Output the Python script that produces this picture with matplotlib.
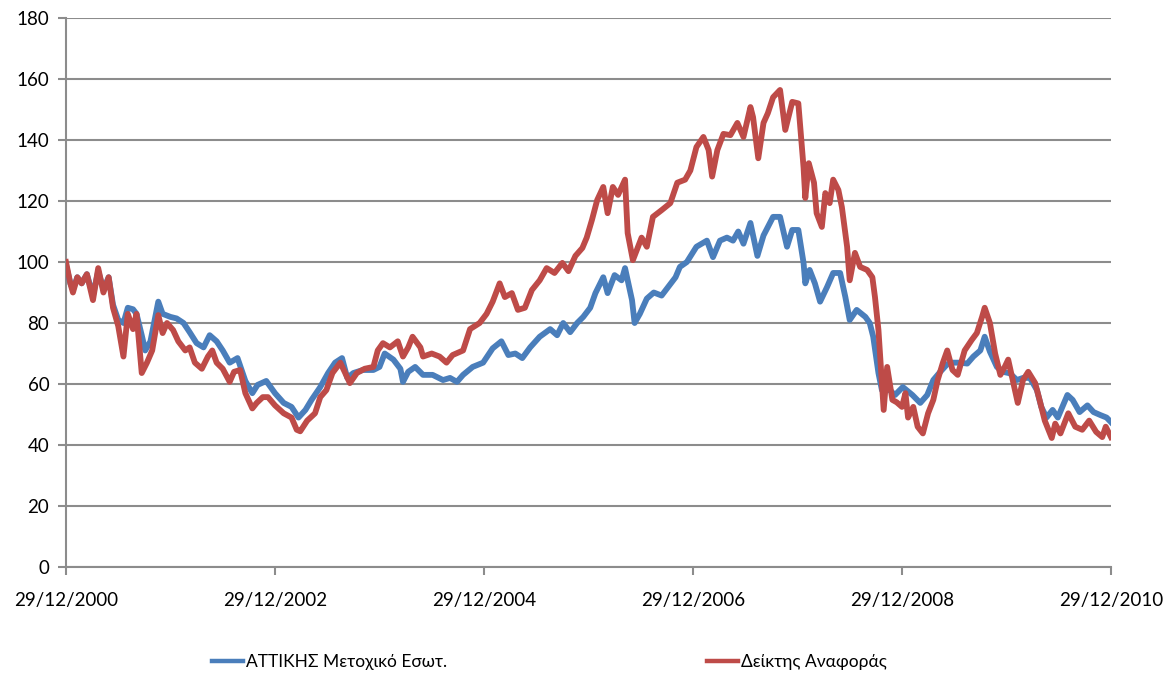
import matplotlib
matplotlib.use("Agg")
import matplotlib.pyplot as plt

# months since 29/12/2000 and index values
attica_m = [0.0, 0.5, 0.8, 1.3, 1.8, 2.4, 3.1, 3.7, 4.3, 4.9, 5.4, 6.0, 6.6, 7.1, 7.7, 8.1, 8.7, 9.1, 9.7,
            10.6, 11.1, 12.0, 12.7, 13.5, 14.2, 15.0, 15.8, 16.5, 17.3, 18.0, 18.8, 19.7, 20.6, 21.4, 22.0,
            23.0, 24.0, 25.0, 25.9, 26.7, 27.5, 28.2, 29.2, 30.1, 30.9, 31.7, 32.3, 33.0, 34.1, 35.3, 36.0,
            36.6, 37.6, 38.4, 38.7, 39.3, 40.1, 41.0, 42.1, 43.3, 44.1, 44.9, 45.6, 46.7, 47.9, 49.0, 50.0,
            50.8, 51.6, 52.4, 53.3, 54.4, 55.6, 56.4, 57.1, 57.9, 58.7, 59.4, 60.2, 60.8, 61.7, 62.2, 63.0,
            63.8, 64.2, 65.0, 65.3, 65.9, 66.7, 67.5, 68.4, 69.2, 70.0, 70.5, 71.3, 72.4, 73.6, 74.3, 75.1,
            75.9, 76.6, 77.2, 77.8, 78.6, 79.4, 80.1, 81.2, 82.0, 82.8, 83.4, 84.1, 84.7, 84.9, 85.4, 86.0,
            86.6, 87.4, 88.1, 88.9, 89.5, 90.0, 90.8, 91.8, 92.3, 92.7, 93.3, 93.7, 94.6, 95.2, 96.1, 97.2,
            98.1, 98.9, 99.6, 100.4, 101.2, 101.9, 102.7, 103.5, 104.2, 105.0, 105.5, 106.1, 106.9, 107.6,
            108.4, 109.2, 109.9, 110.7, 111.5, 112.0, 112.6, 113.3, 113.9, 115.0, 115.6, 116.4, 117.3, 118.0,
            118.8, 119.5, 120.0]
attica_v = [99, 93, 91, 95, 93, 96, 89, 97, 91, 95, 86, 81, 80, 85, 84.5, 83, 76, 71, 74,
            87, 83, 82, 81.5, 80, 77, 73.4, 72, 76, 74, 71, 67, 68.5, 61, 57, 59.7,
            61, 57, 53.8, 52.5, 49, 51.5, 54.8, 59, 63.6, 67, 68.5, 62, 63.6, 64.6, 64.6, 65.6,
            70, 68, 65, 60.7, 64, 65.6, 63, 63, 61.3, 62, 60.7, 63, 65.6, 67, 71.7, 74,
            69.5, 70, 68.5, 72, 75.5, 78, 76, 80, 77, 80, 82, 85, 89.8, 95, 89.8, 95.7,
            94, 98, 87.5, 80, 83, 88, 90, 89, 92, 95, 98.4, 100, 105, 107, 101.6, 107,
            108, 107, 110, 106, 112.8, 102, 108.7, 114.8, 114.8, 105, 110.5, 110.5, 99.7, 93, 97.4, 93,
            87, 91.8, 96.4, 96.4, 88.5, 81, 84.3, 82, 80, 75.5, 63.6, 58, 58, 56.4, 59, 56.4,
            53.8, 56.4, 61.3, 64, 66.5, 67, 67, 66.7, 69, 71, 75.5, 70.6, 65.6, 64,
            63.5, 61.3, 62, 62, 58, 52.5, 49, 51.5, 49, 56.4, 54.8, 50.8, 53, 50.8,
            49.8, 49, 47.5]

bench_m = [0.0, 0.5, 0.8, 1.3, 1.8, 2.4, 3.1, 3.7, 4.3, 4.9, 5.4, 6.0, 6.6, 7.1, 7.7, 8.1, 8.7, 9.3, 9.9,
           10.6, 11.1, 11.6, 12.3, 12.9, 13.7, 14.2, 14.8, 15.6, 16.3, 16.8, 17.3, 18.0, 18.8, 19.3, 20.0,
           20.6, 21.4, 21.9, 22.6, 23.2, 24.0, 25.0, 25.9, 26.5, 26.9, 27.7, 28.6, 29.2, 29.9, 30.6, 31.5,
           32.0, 32.6, 33.4, 34.3, 35.3, 35.8, 36.4, 37.2, 38.1, 38.7, 39.3, 39.8, 40.7, 41.0, 42.0, 42.9,
           43.7, 44.4, 45.6, 46.4, 47.5, 48.3, 49.0, 49.8, 50.4, 51.2, 51.9, 52.7, 53.5, 54.4, 55.2, 56.1,
           57.0, 57.7, 58.5, 59.3, 59.8, 60.4, 61.0, 61.7, 62.2, 62.8, 63.4, 64.2, 64.5, 65.1, 65.7, 66.1,
           66.7, 67.4, 68.4, 69.4, 70.2, 71.1, 71.7, 72.4, 73.2, 73.8, 74.2, 74.8, 75.5, 76.3, 77.1, 77.8,
           78.6, 78.9, 79.5, 80.1, 80.6, 81.2, 82.0, 82.6, 83.4, 84.1, 84.7, 84.9, 85.3, 85.9, 86.2, 86.8,
           87.2, 87.7, 88.1, 88.7, 89.1, 89.7, 90.0, 90.6, 91.2, 92.0, 92.6, 92.9, 93.3, 93.5, 93.9, 94.3,
           94.9, 95.4, 96.0, 96.4, 96.7, 97.3, 97.8, 98.4, 99.0, 99.6, 100.1, 100.7, 101.2, 101.8, 102.4,
           103.2, 104.0, 104.6, 105.2, 105.5, 106.1, 106.7, 107.3, 107.8, 108.2, 108.8, 109.3, 109.9, 110.5,
           111.3, 111.8, 112.4, 113.2, 113.6, 114.2, 115.1, 115.9, 116.7, 117.5, 118.3, 119.0, 119.4, 120.0]
bench_v = [100, 93, 90, 95, 93, 96, 87.5, 98, 90, 95, 85, 79, 69, 83, 78, 83, 63.6, 67, 71,
           82.6, 76.7, 80, 77.7, 74, 71, 72, 67, 65, 69, 71, 67, 65, 60.7, 64, 64.6,
           57, 52, 53.8, 55.7, 55.7, 53, 50.4, 49, 45, 44.5, 48, 50.4, 55.7, 58, 63.6, 67,
           64, 60.3, 63.6, 65, 65.6, 71, 73.4, 72, 74, 69, 72, 75.5, 72, 69, 70, 69,
           67, 69.5, 71, 78, 80, 83, 87, 93, 88.5, 89.8, 84.3, 85, 90.8, 94, 98, 96.4,
           99.7, 97, 102, 104.6, 108, 113.8, 120.3, 124.6, 116, 124.6, 122, 127, 109.5, 100.6, 105, 108,
           105, 114.8, 117, 119.3, 126, 127, 130, 137.7, 141, 136.7, 128, 136.7, 142, 141.6, 145.6, 141,
           150.8, 147.5, 134, 145.6, 148.8, 154, 156.4, 143.3, 152.5, 152, 131, 121, 132.4, 126, 116, 111.5,
           122.6, 119.3, 127, 123.6, 118, 105, 94, 103, 98.4, 97.4, 95, 88.5, 77.7, 69, 51.5, 65.6,
           54.8, 54, 52.5, 57, 49, 52.5, 46, 43.8, 50.4, 54.8, 61.3, 67, 71, 64.6, 63,
           71, 74.4, 76.7, 82, 85, 80, 70, 63, 65.6, 68, 60.3, 53.8, 61.3, 64,
           60.3, 54.8, 48, 42.3, 47, 43.8, 50.4, 46, 45, 48, 44.3, 42.6, 46, 42.6]

tick_pos = [0, 24, 48, 72, 96, 120]
tick_labels = ["29/12/2000", "29/12/2002", "29/12/2004", "29/12/2006", "29/12/2008", "29/12/2010"]

plt.rcParams['font.family'] = ['Lato', 'DejaVu Sans']

fig = plt.figure(figsize=(11.74, 6.76), dpi=100)
ax = fig.add_axes([0.0562, 0.1612, 0.8901, 0.8122])

grid_col = "#8c8c8c"
l1, = ax.plot(attica_m, attica_v, color="#4a7ebb", lw=4.2, label="ΑΤΤΙΚΗΣ Μετοχικό Εσωτ.",
              solid_joinstyle="round", zorder=3)
l2, = ax.plot(bench_m, bench_v, color="#be4b48", lw=4.2, label="Δείκτης Αναφοράς",
              solid_joinstyle="round", zorder=4)

ax.set_xlim(0, 120)
ax.set_ylim(0, 180)
ax.set_yticks(range(0, 181, 20))
ax.set_xticks(tick_pos)
ax.set_xticklabels(tick_labels)
ax.yaxis.grid(True, color=grid_col, lw=1.5)
ax.set_axisbelow(True)

for s in ["top", "right"]:
    ax.spines[s].set_visible(False)
for s in ["left", "bottom"]:
    ax.spines[s].set_color(grid_col)
    ax.spines[s].set_linewidth(1.5)

ax.tick_params(axis="y", length=6, width=1.5, color=grid_col, labelsize=13.5, pad=6)
ax.tick_params(axis="x", length=6, width=1.5, color=grid_col, labelsize=13.5, pad=12)

# two legend entries placed separately, as in the original layout
for line, xpos in [(l1, 0.1806), (l2, 0.6022)]:
    leg = fig.legend(handles=[line], loc="center left", bbox_to_anchor=(xpos, 0.021),
                     frameon=False, fontsize=12.5, handlelength=1.8, handletextpad=0.15,
                     borderpad=0, borderaxespad=0)
    leg.get_lines()[0].set_linewidth(3.2)

fig.savefig("out.png", dpi=100)
